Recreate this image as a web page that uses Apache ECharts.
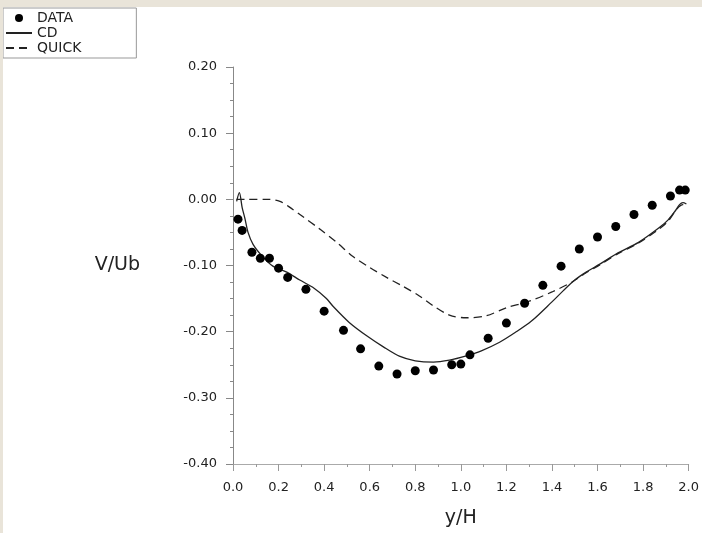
<!DOCTYPE html>
<html>
<head>
<meta charset="utf-8">
<script src="https://cdn.jsdelivr.net/npm/echarts@6/dist/echarts.min.js"></script>
<style>
    html, body { margin: 0; padding: 0; background: #e9e4d9; }
    #chart { position: absolute; left: 3px; top: 7px; width: 699px; height: 526px; background: #fff; }
</style>
</head>
<body>
<div id="chart"></div>
<script>
    // measured points, [y/H, V/Ub]
    var dataPoints = [
        [0.022, -0.030], [0.040, -0.047], [0.083, -0.080], [0.120, -0.089], [0.160, -0.089],
        [0.200, -0.104], [0.240, -0.118], [0.320, -0.136], [0.400, -0.169], [0.485, -0.198],
        [0.560, -0.226], [0.640, -0.252], [0.720, -0.264], [0.800, -0.259], [0.880, -0.258],
        [0.960, -0.250], [1.000, -0.249], [1.040, -0.235], [1.120, -0.210], [1.200, -0.187],
        [1.280, -0.157], [1.360, -0.130], [1.440, -0.101], [1.520, -0.075], [1.600, -0.057],
        [1.680, -0.041], [1.760, -0.023], [1.840, -0.009], [1.920, 0.005], [1.960, 0.014],
        [1.985, 0.014]
    ];
    var cdLine = [
        [0.016, -0.003], [0.028, 0.010], [0.040, -0.012], [0.053, -0.030], [0.066, -0.050],
        [0.088, -0.068], [0.131, -0.087], [0.175, -0.101], [0.236, -0.110], [0.293, -0.122],
        [0.350, -0.133], [0.410, -0.150], [0.440, -0.162], [0.510, -0.186], [0.590, -0.207],
        [0.660, -0.223], [0.730, -0.237], [0.800, -0.244], [0.880, -0.246], [0.950, -0.243],
        [1.020, -0.237], [1.090, -0.229], [1.170, -0.216], [1.240, -0.201], [1.310, -0.184],
        [1.400, -0.155], [1.450, -0.138], [1.500, -0.122], [1.550, -0.110], [1.610, -0.098],
        [1.690, -0.081], [1.780, -0.065], [1.870, -0.043], [1.910, -0.031], [1.940, -0.018],
        [1.960, -0.008], [1.975, -0.005], [1.990, -0.007]
    ];
    var quickLine = [
        [0.015, 0.000], [0.060, 0.000], [0.160, 0.000], [0.206, -0.003], [0.245, -0.011],
        [0.306, -0.026], [0.381, -0.045], [0.455, -0.065], [0.525, -0.086], [0.600, -0.103],
        [0.674, -0.118], [0.744, -0.131], [0.818, -0.146], [0.875, -0.160], [0.950, -0.175],
        [1.024, -0.179], [1.112, -0.176], [1.199, -0.164], [1.300, -0.154], [1.400, -0.140],
        [1.488, -0.125], [1.550, -0.111], [1.610, -0.099], [1.690, -0.082], [1.780, -0.066],
        [1.870, -0.045], [1.910, -0.033], [1.950, -0.014], [1.975, -0.008], [1.990, -0.008]
    ];
    var seriesNames = ["DATA", "CD", "QUICK"];

    var chart = echarts.init(document.getElementById("chart"));
    var font = "DejaVu Sans";

    var option = {
        animation: false,
        grid: { left: 230, top: 60, right: 12, bottom: 68 },
        legend: {
            // lines get no dot in the legend
            data: [
                { name: seriesNames[0] },
                { name: seriesNames[1], itemStyle: { opacity: 0 } },
                { name: seriesNames[2], itemStyle: { opacity: 0 } }
            ],
            orient: "vertical",
            left: 0,
            top: 1,
            padding: [3, 55, 3, 2],
            itemGap: 1,
            itemWidth: 26,
            itemHeight: 8,
            backgroundColor: "#fff",
            borderColor: "#999",
            borderWidth: 1,
            borderRadius: 0,
            textStyle: { fontFamily: font, fontSize: 14, color: "#222" }
        },
        xAxis: {
            type: "value",
            min: 0,
            max: 2,
            interval: 0.2,
            name: "y/H",
            nameLocation: "middle",
            nameGap: 45,
            nameMoveOverlap: false,
            nameTextStyle: { fontFamily: font, fontSize: 19, color: "#222" },
            axisLine: { onZero: false, lineStyle: { color: "#aaa", width: 1 } },
            axisTick: { length: 7, lineStyle: { color: "#999" } },
            minorTick: { show: true, splitNumber: 2, length: 3, lineStyle: { color: "#999" } },
            splitLine: { show: false },
            axisLabel: {
                margin: 17,
                fontFamily: font,
                fontSize: 13,
                color: "#222",
                formatter: function (v) { return v.toFixed(1); }
            }
        },
        yAxis: {
            type: "value",
            min: -0.4,
            max: 0.2,
            interval: 0.1,
            name: "V/Ub",
            nameLocation: "middle",
            nameRotate: 0,
            nameGap: 93,
            nameMoveOverlap: false,
            nameTextStyle: { fontFamily: font, fontSize: 19, color: "#222" },
            axisLine: { show: true, onZero: false, lineStyle: { color: "#888", width: 1 } },
            axisTick: { show: true, length: 7, lineStyle: { color: "#888" } },
            minorTick: { show: true, splitNumber: 4, length: 3, lineStyle: { color: "#888" } },
            splitLine: { show: false },
            axisLabel: {
                margin: 16,
                fontFamily: font,
                fontSize: 13,
                color: "#222",
                formatter: function (v) { return v.toFixed(2); }
            }
        },
        series: [
            {
                name: "DATA",
                type: "scatter",
                symbol: "circle",
                symbolSize: 9,
                itemStyle: { color: "#000", opacity: 1 },
                data: dataPoints,
                z: 3
            },
            {
                name: "CD",
                type: "line",
                symbol: "none",
                smooth: 0.3,
                lineStyle: { color: "#222", width: 1.3 },
                itemStyle: { color: "#222" },
                data: cdLine
            },
            {
                name: "QUICK",
                type: "line",
                symbol: "none",
                smooth: 0.3,
                lineStyle: { color: "#222", width: 1.3, type: [8, 5] },
                itemStyle: { color: "#222" },
                data: quickLine
            }
        ]
    };
    chart.setOption(option);
</script>
</body>
</html>
